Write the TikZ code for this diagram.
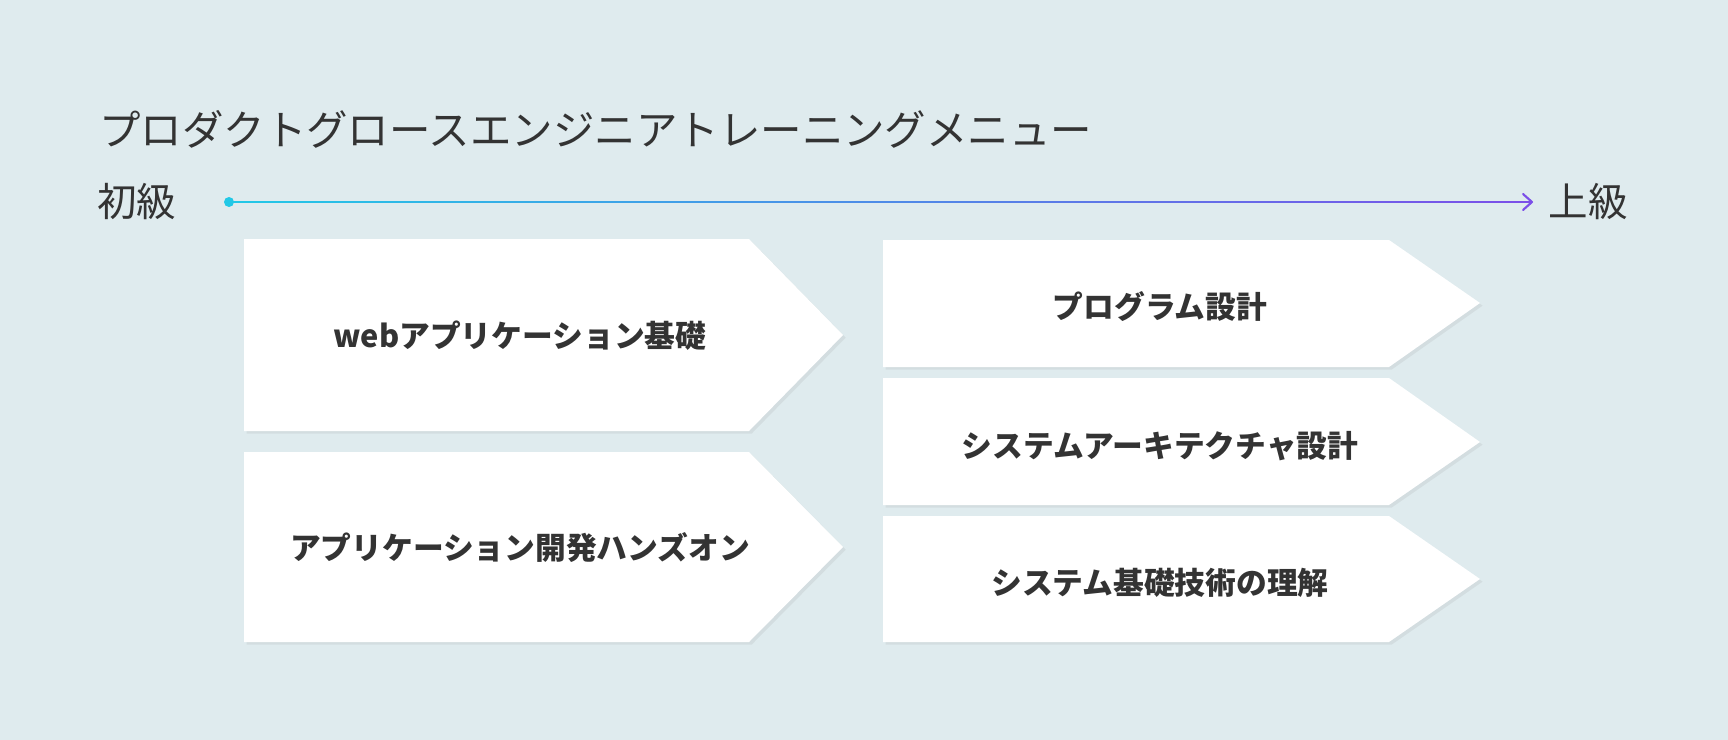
\documentclass[tikz,border=0pt]{standalone}
\usepackage{fontspec}
\setmainfont{Noto Sans CJK JP}
\usetikzlibrary{shadows}
\definecolor{bg}{HTML}{DFEBEE}
\definecolor{ink}{HTML}{333333}
\definecolor{startc}{HTML}{22C8E6}
\definecolor{endc}{HTML}{7B4FE8}
\tikzset{
  menu/.style={fill=white, draw=none, drop shadow={shadow xshift=1.5pt, shadow yshift=-1.5pt, opacity=0.12}},
  menutext/.style={text=ink, font=\bfseries\fontsize{17.5}{20}\selectfont},
  level/.style={text=ink, font=\fontsize{22.5}{26}\selectfont}
}
\begin{document}
\begin{tikzpicture}[x=0.02cm, y=-0.02cm]
  \fill[bg] (0, 0) rectangle (1728, 740);
  % title
  \node[anchor=west, text=ink, font=\fontsize{23.6}{28}\selectfont] (title) at (93, 129) {プロダクトグロースエンジニアトレーニングメニュー};
  % level axis
  \node[level, anchor=west] (low) at (91, 202) {初級};
  \node[level, anchor=east] (high) at (1634, 202) {上級};
  \shade[left color=startc, right color=endc] (229, 201.2) rectangle (1530, 202.8);
  \fill[startc] (229, 202) circle (5);
  \coordinate (dot) at (229, 202);
  \coordinate (tip) at (1532, 202);
  \draw[endc, line width=1.2pt, line cap=round, line join=round] (1523, 194) -- (tip) -- (1523, 210);
  % left boxes
  \fill[menu] (244, 239) -- (749, 239) -- (843, 335) -- (749, 431) -- (244, 431) -- cycle;
  \node[menutext] (web) at (520, 336) {webアプリケーション基礎};
  \fill[menu] (244, 452) -- (749, 452) -- (843, 547) -- (749, 642) -- (244, 642) -- cycle;
  \node[menutext] (hands) at (520, 548) {アプリケーション開発ハンズオン};
  % right boxes
  \fill[menu] (883, 240) -- (1389, 240) -- (1480, 303) -- (1389, 367) -- (883, 367) -- cycle;
  \node[menutext] (prog) at (1160, 307) {プログラム設計};
  \fill[menu] (883, 378) -- (1389, 378) -- (1480, 442) -- (1389, 505) -- (883, 505) -- cycle;
  \node[menutext] (arch) at (1160, 446) {システムアーキテクチャ設計};
  \fill[menu] (883, 516) -- (1389, 516) -- (1480, 579) -- (1389, 642) -- (883, 642) -- cycle;
  \node[menutext] (sys) at (1160, 583) {システム基礎技術の理解};
\end{tikzpicture}
\end{document}
